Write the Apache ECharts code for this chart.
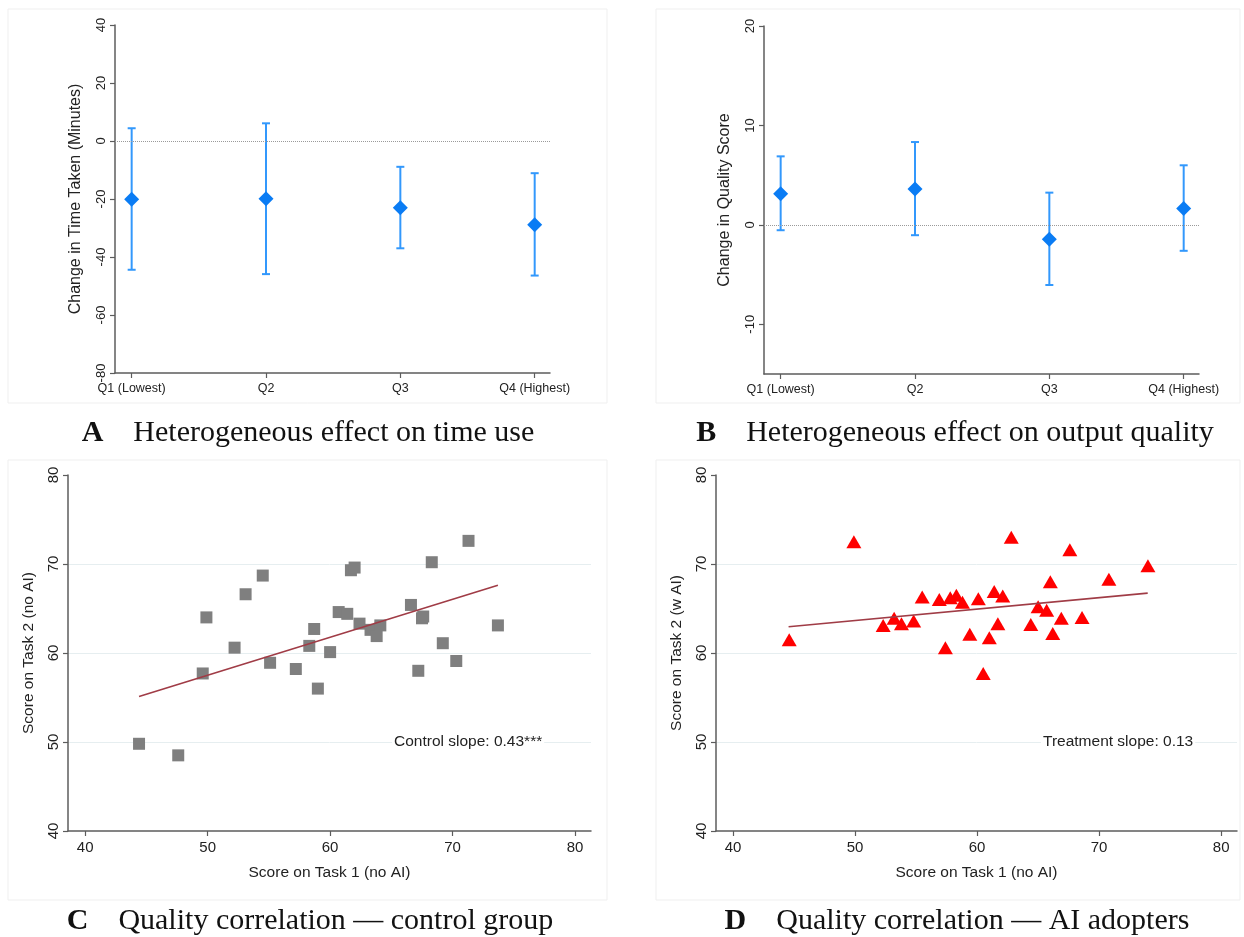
<!DOCTYPE html>
<html>
<head>
<meta charset="utf-8">
<title>Heterogeneous effects and quality correlation</title>
<script src="https://cdn.jsdelivr.net/npm/echarts@6/dist/echarts.min.js"></script>
<style>
  html, body { margin: 0; padding: 0; background: #fff; }
  #chart { width: 1244px; height: 937px; }
</style>
</head>
<body>
<div id="chart"></div>
<script>
// --- panels A / B: quartile estimates with 95% CI ---
const quartiles = ['Q1 (Lowest)', 'Q2', 'Q3', 'Q4 (Highest)'];
const timeEst  = [-20.1, -19.9, -23.0, -28.9];
const timeLow  = [-44.4, -45.9, -37.0, -46.4];
const timeHigh = [4.4, 6.1, -8.9, -11.1];
const qualEst  = [3.14, 3.61, -1.44, 1.64];
const qualLow  = [-0.54, -1.04, -6.05, -2.61];
const qualHigh = [6.89, 8.33, 3.24, 5.99];

// --- panel C: control group (task 1 vs task 2 score) ---
const controlX = [44.4, 47.6, 49.6, 49.9, 52.2, 53.1, 54.5, 55.1, 57.2, 58.3, 58.7, 59.0, 60.0, 60.7, 61.4,
                  61.7, 62.0, 62.4, 63.3, 63.8, 64.1, 66.6, 67.2, 67.5, 67.6, 68.3, 69.2, 70.3, 71.3, 73.7];
const controlY = [49.8, 48.5, 57.7, 64.0, 60.6, 66.6, 68.7, 58.9, 58.2, 60.8, 62.7, 56.0, 60.1, 64.6, 64.4,
                  69.3, 69.6, 63.3, 62.6, 61.9, 63.1, 65.4, 58.0, 63.9, 64.1, 70.2, 61.1, 59.1, 72.6, 63.1];
const controlFit = [[44.4, 55.1], [73.7, 67.6]];

// --- panel D: AI adopters ---
const treatX = [44.6, 49.9, 52.3, 53.2, 53.8, 54.8, 55.5, 56.9, 57.4, 57.8, 58.3, 58.8, 59.4, 60.1, 60.5,
                61.0, 61.4, 61.7, 62.1, 62.8, 64.4, 65.0, 65.7, 66.0, 66.2, 66.9, 67.6, 68.6, 70.8, 74.0];
const treatY = [61.5, 72.5, 63.1, 63.9, 63.3, 63.6, 66.3, 66.0, 60.6, 66.2, 66.5, 65.7, 62.1, 66.1, 57.7,
                61.7, 66.9, 63.3, 66.4, 73.0, 63.2, 65.2, 64.8, 68.0, 62.2, 63.9, 71.6, 64.0, 68.3, 69.8];
const treatFit = [[44.55, 62.95], [73.98, 66.73]];

const captions = [
  ['A', 'Heterogeneous effect on time use'],
  ['B', 'Heterogeneous effect on output quality'],
  ['C', 'Quality correlation \u2014 control group'],
  ['D', 'Quality correlation \u2014 AI adopters']
];
const slopeNotes = ['Control slope: 0.43***', 'Treatment slope: 0.13'];

const SANS = 'Liberation Sans, Arial, sans-serif';
const SERIF = 'Liberation Serif, serif';
const AXIS_COLOR = '#5c5c5c';
const BAR_BLUE = '#3298fc';
const DOT_BLUE = '#0a7cf4';

const chart = echarts.init(document.getElementById('chart'));

// shared axis look (Stata style)
const axisBase = {
  axisLine: { show: true, onZero: false, lineStyle: { color: AXIS_COLOR, width: 1.5 } },
  axisTick: { show: true, length: 5, lineStyle: { color: AXIS_COLOR, width: 1.2 } },
  splitLine: { show: false },
  nameTextStyle: { fontFamily: SANS, color: '#222' }
};

function quartileX(gridIndex) {
  return Object.assign({}, axisBase, {
    type: 'value', gridIndex: gridIndex, min: 0.876, max: 4.114,
    axisTick: Object.assign({}, axisBase.axisTick, { customValues: [1, 2, 3, 4] }),
    axisLabel: {
      customValues: [1, 2, 3, 4], fontFamily: SANS, fontSize: 12.5, color: '#222', margin: 9,
      formatter: v => quartiles[Math.round(v) - 1]
    }
  });
}

function quartileY(gridIndex, opts) {
  return Object.assign({}, axisBase, {
    type: 'value', gridIndex: gridIndex,
    nameLocation: 'middle', nameGap: 31,
    nameTextStyle: { fontFamily: SANS, fontSize: 16, color: '#222' },
    axisLabel: { rotate: 90, fontFamily: SANS, fontSize: 13, color: '#222', margin: 7 }
  }, opts);
}

function scoreX(gridIndex, title) {
  return Object.assign({}, axisBase, {
    type: 'value', gridIndex: gridIndex, min: 38.6, max: 81.3,
    name: title, nameLocation: 'middle', nameGap: 34,
    nameTextStyle: { fontFamily: SANS, fontSize: 15.5, color: '#222' },
    axisTick: Object.assign({}, axisBase.axisTick, { customValues: [40, 50, 60, 70, 80] }),
    axisLabel: { customValues: [40, 50, 60, 70, 80], fontFamily: SANS, fontSize: 15, color: '#222', margin: 9 }
  });
}

function scoreY(gridIndex, title) {
  return Object.assign({}, axisBase, {
    type: 'value', gridIndex: gridIndex, min: 40, max: 80, interval: 10,
    name: title, nameLocation: 'middle', nameGap: 31,
    nameTextStyle: { fontFamily: SANS, fontSize: 15.5, color: '#222' },
    axisLabel: { rotate: 90, fontFamily: SANS, fontSize: 15, color: '#222', margin: 7 }
  });
}

// vertical CI bars with caps
function ciSeries(idx, low, high) {
  return {
    type: 'custom', xAxisIndex: idx, yAxisIndex: idx, silent: true,
    data: low.map((l, i) => [i + 1, l, high[i]]),
    renderItem: function (params, api) {
      const top = api.coord([api.value(0), api.value(2)]);
      const bot = api.coord([api.value(0), api.value(1)]);
      const cap = 4;
      const style = { stroke: BAR_BLUE, lineWidth: 2, fill: null };
      return {
        type: 'group',
        children: [
          { type: 'line', shape: { x1: top[0], y1: top[1], x2: bot[0], y2: bot[1] }, style: style },
          { type: 'line', shape: { x1: top[0] - cap, y1: top[1], x2: top[0] + cap, y2: top[1] }, style: style },
          { type: 'line', shape: { x1: bot[0] - cap, y1: bot[1], x2: bot[0] + cap, y2: bot[1] }, style: style }
        ]
      };
    },
    z: 2
  };
}

function estSeries(idx, est) {
  return {
    type: 'scatter', xAxisIndex: idx, yAxisIndex: idx, silent: true,
    symbol: 'diamond', symbolSize: [15, 15],
    itemStyle: { color: DOT_BLUE, opacity: 1 },
    data: est.map((v, i) => [i + 1, v]),
    markLine: {
      silent: true, symbol: 'none', label: { show: false },
      lineStyle: { type: 'dotted', color: '#9a9a9a', width: 1 },
      data: [{ yAxis: 0 }]
    },
    z: 3
  };
}

function pairs(xs, ys) { return xs.map((x, i) => [x, ys[i]]); }

// light horizontal grid lines at 50/60/70 only, kept under the markers
function gridLines(idx) {
  return {
    type: 'line', xAxisIndex: idx, yAxisIndex: idx, data: [], silent: true, z: 0,
    markLine: {
      silent: true, symbol: 'none', label: { show: false }, z: 0,
      lineStyle: { type: 'solid', color: '#e6eef0', width: 1 },
      data: [{ yAxis: 50 }, { yAxis: 60 }, { yAxis: 70 }]
    }
  };
}

function fitSeries(idx, fit) {
  return {
    type: 'line', xAxisIndex: idx, yAxisIndex: idx, silent: true,
    data: fit, symbol: 'none', lineStyle: { color: '#a03c46', width: 1.6 }, z: 4
  };
}

function caption(cx, cy, pair) {
  return {
    type: 'text', x: cx, y: cy, silent: true,
    style: {
      text: '{b|' + pair[0] + '}    ' + pair[1],
      align: 'center', verticalAlign: 'middle',
      fontFamily: SERIF, fontSize: 30, fill: '#111',
      rich: { b: { fontFamily: SERIF, fontSize: 30, fontWeight: 'bold', fill: '#111' } }
    }
  };
}

function frame(x, y, w, h) {
  return { type: 'rect', silent: true, z: -1, shape: { x: x, y: y, width: w, height: h },
           style: { fill: null, stroke: '#efefef', lineWidth: 1 } };
}

function note(x, y, text) {
  return { type: 'text', x: x, y: y, silent: true, z: 10,
           style: { text: text, fontFamily: SANS, fontSize: 15.5, fill: '#222', verticalAlign: 'middle',
                    backgroundColor: '#ffffff', padding: [0, 2] } };
}

const option = {
  backgroundColor: '#ffffff',
  animation: false,
  grid: [
    { left: 115, top: 25, width: 435, height: 348 },
    { left: 764, top: 26, width: 435, height: 348 },
    { left: 68, top: 475, width: 523, height: 356 },
    { left: 716, top: 475, width: 521, height: 356 }
  ],
  xAxis: [
    quartileX(0),
    quartileX(1),
    scoreX(2, 'Score on Task 1 (no AI)'),
    scoreX(3, 'Score on Task 1 (no AI)')
  ],
  yAxis: [
    quartileY(0, { min: -80, max: 40, interval: 20, name: 'Change in Time Taken (Minutes)' }),
    quartileY(1, {
      min: -15, max: 20, name: 'Change in Quality Score',
      axisTick: Object.assign({}, axisBase.axisTick, { customValues: [-10, 0, 10, 20] }),
      axisLabel: { customValues: [-10, 0, 10, 20], rotate: 90, fontFamily: SANS, fontSize: 13, color: '#222', margin: 7 }
    }),
    scoreY(2, 'Score on Task 2 (no AI)'),
    scoreY(3, 'Score on Task 2 (w AI)')
  ],
  series: [
    ciSeries(0, timeLow, timeHigh),
    estSeries(0, timeEst),
    ciSeries(1, qualLow, qualHigh),
    estSeries(1, qualEst),
    gridLines(2),
    {
      type: 'scatter', xAxisIndex: 2, yAxisIndex: 2, silent: true, z: 3,
      symbol: 'rect', symbolSize: 12, itemStyle: { color: '#7f7f7f', opacity: 1 },
      data: pairs(controlX, controlY)
    },
    fitSeries(2, controlFit),
    gridLines(3),
    {
      type: 'scatter', xAxisIndex: 3, yAxisIndex: 3, silent: true, z: 3,
      symbol: 'triangle', symbolSize: [15, 13], itemStyle: { color: '#ff0000', opacity: 1 },
      data: pairs(treatX, treatY)
    },
    fitSeries(3, treatFit)
  ],
  graphic: [
    frame(8, 9, 599, 394),
    frame(656, 9, 584, 394),
    frame(8, 460, 599, 440),
    frame(656, 460, 584, 440),
    note(392, 742, slopeNotes[0]),
    note(1041, 742, slopeNotes[1]),
    caption(308, 433, captions[0]),
    caption(955, 433, captions[1]),
    caption(310, 921, captions[2]),
    caption(957, 921, captions[3])
  ]
};

chart.setOption(option);
</script>
</body>
</html>
